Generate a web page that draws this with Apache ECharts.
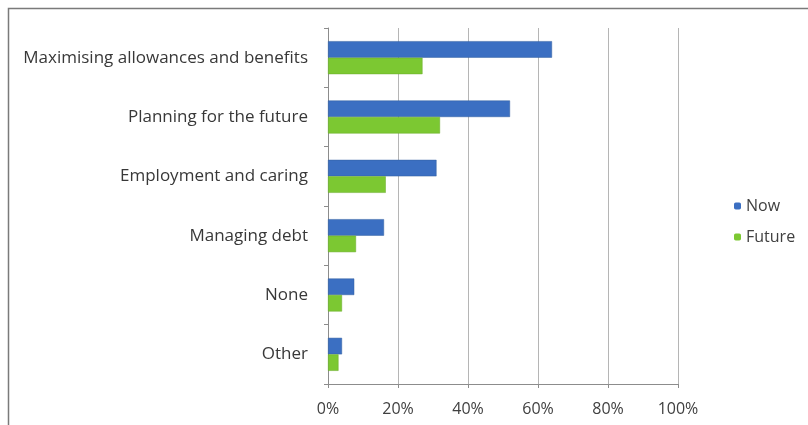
<!DOCTYPE html>
<html>
<head>
<meta charset="utf-8">
<script src="https://cdn.jsdelivr.net/npm/echarts@6/dist/echarts.min.js"></script>
<style>
  html, body { margin: 0; padding: 0; background: #fff; }
  #chart { width: 808px; height: 425px; }
</style>
</head>
<body>
<div id="chart"></div>
<script>
// Support areas, share of respondents (%)
const categories = [
  'Maximising allowances and benefits',
  'Planning for the future',
  'Employment and caring',
  'Managing debt',
  'None',
  'Other'
];
const nowValues = [64, 52, 31, 16, 7.5, 4];
const futureValues = [27, 32, 16.5, 8, 4, 3];
const xTicks = [0, 20, 40, 60, 80, 100];

const FONT = '"Open Sans", Lato, sans-serif';

const chart = echarts.init(document.getElementById('chart'), null, { renderer: 'canvas' });
chart.setOption({
  backgroundColor: '#ffffff',
  animation: false,
  textStyle: { fontFamily: FONT },
  grid: { left: 328, right: 130, top: 28, bottom: 41, containLabel: false },
  legend: {
    orient: 'vertical',
    left: 729,
    top: 193,
    itemWidth: 7,
    itemHeight: 7,
    itemGap: 15,
    itemStyle: { borderWidth: 0 },
    icon: 'roundRect',
    textStyle: { fontFamily: FONT, fontSize: 16, color: '#404040' },
    data: ['Now', 'Future']
  },
  xAxis: {
    type: 'value',
    min: xTicks[0],
    max: xTicks[xTicks.length - 1],
    interval: xTicks[1] - xTicks[0],
    axisLine: { show: true, lineStyle: { color: '#8c8c8c', width: 1 } },
    axisTick: { show: true, length: 4, lineStyle: { color: '#8c8c8c' } },
    splitLine: { show: true, lineStyle: { color: '#b5b5b5', width: 1 } },
    axisLabel: {
      formatter: '{value}%',
      margin: 17,
      fontFamily: FONT,
      fontSize: 16,
      color: '#404040'
    }
  },
  yAxis: {
    type: 'category',
    inverse: true,
    data: categories,
    axisLine: { show: true, lineStyle: { color: '#8c8c8c', width: 1 } },
    axisTick: { show: true, length: 4, lineStyle: { color: '#8c8c8c' } },
    splitLine: { show: false },
    axisLabel: {
      margin: 20,
      fontFamily: FONT,
      fontSize: 17,
      color: '#383838'
    }
  },
  series: [
    {
      name: 'Now',
      type: 'bar',
      data: nowValues,
      barWidth: 16.5,
      barGap: '0%',
      itemStyle: { color: '#3b6fc2', borderColor: '#335f9f', borderWidth: 0.5 }
    },
    {
      name: 'Future',
      type: 'bar',
      data: futureValues,
      barWidth: 16.5,
      barGap: '0%',
      itemStyle: { color: '#7cc832', borderColor: '#6aab2a', borderWidth: 0.5 }
    }
  ],
  graphic: [
    {
      type: 'polyline',
      silent: true,
      shape: { points: [[8.5, 425], [8.5, 8.5], [808, 8.5]] },
      style: { stroke: '#7a7a7a', lineWidth: 1.5, fill: null }
    }
  ]
});
</script>
</body>
</html>
